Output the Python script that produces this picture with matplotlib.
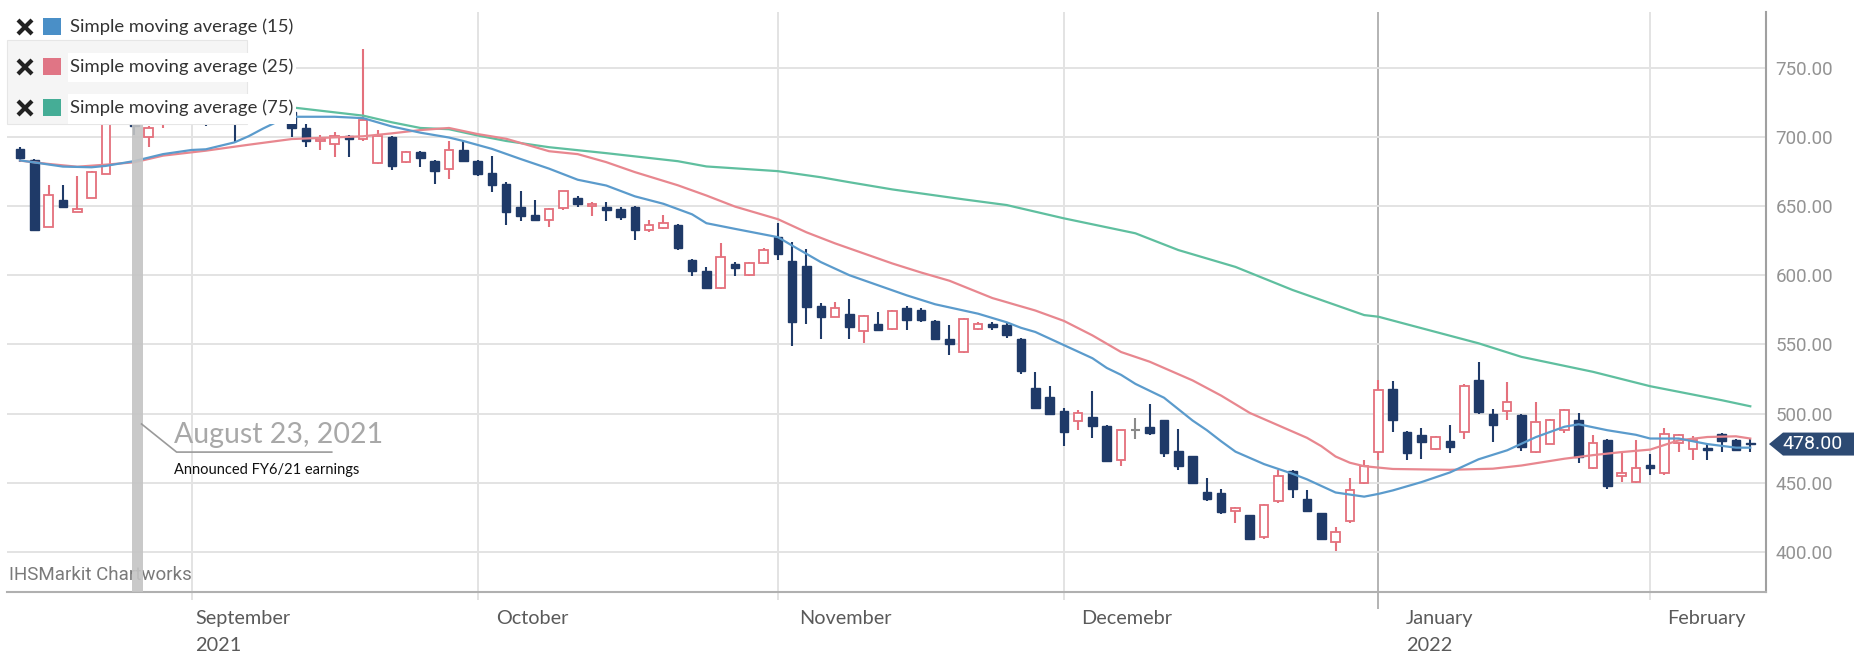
import matplotlib
matplotlib.use('Agg')
import matplotlib.pyplot as plt
from matplotlib.patches import Rectangle, Polygon
from matplotlib.lines import Line2D
import matplotlib.transforms as mtransforms

plt.rcParams['font.family'] = ['Roboto', 'DejaVu Sans']

# daily sessions, index 0 = first session on the chart
opens = [691, 683, 635, 654.3, 646, 656, 673.5, 712, 716, 699.6,
         710, 714, 722, 718, 712, 720, 713, 718, 725, 718,
         706.4, 697, 694.8, 700.6, 698.4, 680.8, 699.6, 681.6, 689.3, 682.3,
         676.7, 690.6, 682.4, 674, 666, 649.6, 643.6, 640, 648.7, 655.7,
         650.3, 649.6, 648, 649.6, 633, 634.2, 636.6, 611.3, 602.9, 590.8,
         608.2, 600.5, 608.7, 627.5, 610.1, 607, 578.1, 570.1, 572, 560,
         564.8, 561.2, 576.5, 575.1, 566.9, 554.1, 544.5, 561.3, 564.9, 563.7,
         554.1, 518.7, 511.9, 501.6, 494.6, 497.5, 491, 466.6, 487.8, 490.2,
         495.1, 472.9, 469.3, 443.7, 442.5, 429.5, 426.4, 411.2, 436.7, 458.4,
         438.4, 428.1, 407.1, 422.6, 449.6, 472.5, 517.6, 486.7, 484.3, 474.6,
         480.2, 486.7, 524.2, 500, 501.9, 498.8, 472.2, 478.3, 487.9, 495.2,
         460.9, 481.2, 454.6, 450.5, 462.6, 457, 478.7, 474.6, 475.5, 485,
         481.2, 478.8]
highs = [692.5, 684, 665, 665.4, 672, 675, 714, 720, 719, 708,
         719, 725, 726, 720, 722, 722, 724, 727, 728, 724,
         709.3, 701, 703.2, 701, 763.5, 705, 700.5, 689.5, 690, 683,
         697.2, 697.3, 683, 686.5, 667.7, 661.2, 654, 648.5, 661, 657.6,
         652.8, 652.8, 649.6, 650, 640, 643.8, 637, 612, 605.8, 623.1,
         609.4, 609.4, 619.7, 637.6, 623.8, 619, 579.7, 581, 582.9, 571,
         573.2, 575, 577.5, 576, 567.5, 563.7, 569, 566.1, 566.1, 566,
         554.5, 530, 519.6, 504.2, 502.3, 516.7, 491.5, 488.5, 497, 507.1,
         495.5, 489, 469.5, 453.6, 445.6, 432.4, 427, 435, 458.9, 459,
         444.9, 428.5, 418, 453.2, 466.5, 524.3, 523.8, 487.5, 489.9, 484,
         491.5, 521.7, 537.4, 503.6, 522.9, 499.5, 508.5, 496.4, 503.6, 500.5,
         484.8, 482, 472.2, 480.7, 471, 489.9, 485.5, 483.6, 477.8, 486,
         482, 481.9]
lows = [681.5, 632, 634.5, 649, 645.5, 655.5, 673, 710, 701, 693,
        706.5, 712, 713, 708, 711, 695.3, 712, 710, 716, 699.6,
        692.4, 690.5, 685.2, 685.6, 697, 680.3, 676, 681, 678.4, 665.9,
        669.5, 681.5, 672, 660, 636.6, 639, 639.5, 634.7, 647.2, 649.6,
        643.1, 639.5, 640.2, 625.5, 631, 633.5, 618.3, 599.7, 590, 590,
        599.7, 599.7, 608.2, 611, 549.1, 564.8, 553.9, 569.6, 553.9, 550.8,
        560, 560.5, 560.1, 566.1, 553.4, 542, 544, 560.6, 560.6, 554.8,
        528.8, 503.5, 498.7, 476.3, 488.3, 482.5, 465, 462.5, 481.8, 484.2,
        469, 458.9, 449.3, 436.7, 427.6, 420.8, 409, 409.5, 435.3, 439.1,
        428.8, 409, 401, 420.7, 449, 466.5, 486.9, 466.2, 467.4, 474,
        471.5, 481.9, 500, 479.5, 495.2, 473, 471.5, 477.8, 486, 464.3,
        460, 445.7, 450.5, 449.8, 455.3, 456, 472.2, 466.2, 466.2, 472.2,
        473, 472.2]
closes = [685, 633, 658, 649.5, 647.5, 674.5, 712, 718, 707.5, 706.4,
          716, 722, 716, 712, 719, 713, 720, 724, 719, 706.5,
          697.2, 698.5, 700.4, 698.7, 712.2, 700.8, 679.1, 688.8, 684.7, 675.5,
          690.5, 682.2, 672.8, 665.5, 646, 643.1, 640, 648, 660.5, 651.6,
          651.3, 647.2, 642, 633, 636.4, 637.6, 619.7, 602.9, 590.8, 613.5,
          605.3, 608.7, 618.5, 615.4, 566.5, 576.9, 569.6, 576.4, 562.9, 570.3,
          560.5, 574.4, 567.4, 567.4, 554.1, 550.5, 568.6, 564.9, 562.5, 556.5,
          530.7, 504.2, 499.4, 486.6, 500.4, 491.4, 465.4, 487.8, 487.8, 485.9,
          471.4, 462, 450, 438.4, 428.8, 431.9, 409.5, 434.3, 454.6, 445.6,
          429.5, 409.5, 414.3, 444.8, 462.1, 517, 495.4, 471.5, 479.5, 483.1,
          475.9, 519.8, 501.2, 491.5, 508.5, 475.9, 494, 495.2, 502.4, 468.6,
          478.7, 447.4, 457, 460.9, 460.9, 485, 484.3, 480.7, 474, 480.2,
          473.9, 478]

# moving averages (session index, value)
sma15_x = [0, 2, 3, 5, 6, 8, 10, 12, 13, 15, 16, 17, 18, 19, 22, 24, 26, 28, 30, 31,
           33, 35, 37, 39, 41, 43, 45, 47, 48, 50, 53, 54, 56, 58, 62, 64, 67, 69, 70, 71,
           73, 75, 76, 77, 78, 80, 82, 83, 84, 85, 87, 89, 90, 92, 94, 95, 96, 98, 100, 102,
           104, 106, 108, 109, 111, 113, 114, 116, 118, 120, 121]
sma15_y = [683, 680, 678.5, 678, 679, 682.5, 687.5, 690.5, 691, 696, 700.5, 706, 711, 714.5, 714.5, 713.5, 707.5, 703, 699.5, 697,
           691.3, 684, 677, 669, 664.8, 657, 651.6, 644, 637.6, 633.5, 627.5, 621.4, 609.5, 600, 585.5, 579, 572.2, 566, 562, 559,
           549.5, 540, 533, 528, 521.5, 511.5, 495, 488, 480, 472.5, 463.5, 456.5, 452.5, 443, 440, 442, 444.5, 450.5, 457.5, 467,
           473.5, 483, 490.5, 492.3, 488, 484.7, 482, 482, 478, 475.4, 475.4]

sma25_x = [0, 2, 4, 6, 8, 10, 13, 16, 19, 22, 24, 26, 28, 30, 32, 34, 37, 39, 41, 43,
           46, 48, 50, 53, 55, 57, 61, 63, 65, 68, 71, 73, 75, 77, 79, 82, 84, 86, 88, 90,
           91, 92, 93, 94, 96, 100, 103, 105, 108, 110, 112, 114, 116, 118, 120, 121]
sma25_y = [682.8, 680.4, 678.4, 679.9, 681.6, 686.4, 690, 694.3, 698.4, 699.6, 700.4, 702.5, 704.9, 706.4, 702, 698.6, 689.6, 687.5, 681.7, 674.5,
           665, 657.6, 649.6, 640.5, 631, 623, 608.5, 602, 596, 583.5, 574.5, 567, 556.5, 544.5, 537.5, 524, 513, 500.5, 491.5, 482.5,
           476.5, 469, 464.5, 462, 460, 459.4, 460.2, 462.5, 467.4, 470, 472.2, 474, 480.7, 483.1, 483.6, 482]

sma75_x = [0, 10, 19, 22, 24, 26, 28, 30, 32, 34, 37, 41, 46, 48, 53, 56, 58, 61, 66, 69,
           73, 78, 81, 85, 89, 94, 95, 97, 102, 105, 110, 114, 119, 121]
sma75_y = [723, 723, 721.3, 717.7, 715.3, 710.5, 706.4, 705.5, 701, 697, 692.5, 688.2, 682.4, 678.6, 675.2, 670.8, 667.2, 662, 654.8, 650.7,
           641.1, 630.3, 618.2, 606, 589.3, 571.2, 570, 564.5, 550.8, 541, 530.2, 519.8, 509.7, 505.3]

# first session of each month
month_starts = [12, 32, 53, 73, 95, 114]
month_names = ['September', 'October', 'November', 'Decemebr', 'January', 'February']
year_names = ['2021', '', '', '', '2022', '']
label_shift = [0.25, 1.3, 1.5, 1.2, 1.9, 1.2]

event_pos = 8.2
event_date = 'August 23, 2021'
event_note = 'Announced FY6/21 earnings'

DOWN = '#1f3a68'
UP = '#e4707c'
C15, C25, C75 = '#5b9bcc', '#e8878f', '#5fbf9f'

W, H = 1856, 652
fig = plt.figure(figsize=(W / 100, H / 100), dpi=100)
ax = fig.add_axes([7 / W, 60 / H, (1766 - 7) / W, 580 / H])
ax.set_xlim(-0.91, 122.1)
ax.set_ylim(371.1, 790.2)

# grid
ax.set_yticks(range(400, 751, 50))
ax.set_yticklabels([f'{v:.2f}' for v in range(400, 751, 50)])
ax.yaxis.tick_right()
ax.tick_params(axis='y', length=0, pad=7, labelsize=13.5, labelcolor='#939393')
ax.grid(axis='y', color='#e3e3e3', lw=1.4, zorder=0)
ax.set_xticks([])
xt = ax.get_xaxis_transform()
for m in month_starts:
    jan = m == 95
    ax.vlines(m, -0.03 if jan else -0.014, 1, transform=xt, clip_on=False,
              colors='#b3b3b3' if jan else '#e3e3e3', lw=1.4, zorder=0)
for m, name, yr, sh in zip(month_starts, month_names, year_names, label_shift):
    ax.text(m + sh, -0.046, name, transform=xt, ha='left', va='center',
            fontsize=14.3, family='Lato', color='#5a5a5a')
    if yr:
        ax.text(m + sh, -0.093, yr, transform=xt, ha='left', va='center',
                fontsize=14.3, family='Lato', color='#5a5a5a')

for side in ['left', 'top']:
    ax.spines[side].set_visible(False)
ax.spines['bottom'].set_color('#b0b0b0')
ax.spines['bottom'].set_linewidth(1.5)
ax.spines['right'].set_color('#a0a0a0')
ax.spines['right'].set_linewidth(1.5)

# candles
for i, (o, h, l, c) in enumerate(zip(opens, highs, lows, closes)):
    if c == o:
        col = '#8a8a8a'
    elif c < o:
        col = DOWN
    else:
        col = UP
    ax.vlines(i, l, h, colors=col, lw=1.5, zorder=2)
    if c == o:
        ax.hlines(o, i - 0.3, i + 0.3, colors=col, lw=1.5, zorder=3)
    elif c < o:
        ax.add_patch(Rectangle((i - 0.3, c), 0.6, o - c, facecolor=DOWN,
                               edgecolor=DOWN, lw=1, zorder=3))
    else:
        ax.add_patch(Rectangle((i - 0.3, o), 0.6, c - o, facecolor='white',
                               edgecolor=UP, lw=1.3, zorder=3))

ax.plot(sma75_x, sma75_y, color=C75, lw=1.6, zorder=4)
ax.plot(sma25_x, sma25_y, color=C25, lw=1.6, zorder=4)
ax.plot(sma15_x, sma15_y, color=C15, lw=1.6, zorder=4)

# earnings marker
ax.axvspan(event_pos - 0.4, event_pos + 0.4, color='#c4c4c4', alpha=0.9, lw=0, zorder=5)
ax.plot([event_pos + 0.3, event_pos + 2.75, event_pos + 13.6], [492.5, 472.2, 472.2],
        color='#9a9a9a', lw=1.2, zorder=5)
ax.text(event_pos + 2.6, 475, event_date, ha='left', va='bottom', fontsize=20.5,
        family='Lato', color='#a8a8a8', zorder=6)
ax.text(event_pos + 2.6, 459.2, event_note, ha='left', va='center', fontsize=10.5,
        family='Lato', color='#111111', zorder=6)

ax.text(0.001, 0.014, 'IHSMarkit Chartworks', transform=ax.transAxes, ha='left',
        va='bottom', fontsize=13.5, color='#7a7a7a', zorder=4)

# last price tag
last = closes[-1]
per_px = (790.2 - 371.1) / 580
hh = 11.5 * per_px
tag_tr = mtransforms.blended_transform_factory(fig.transFigure, ax.transData)
tag = Polygon([(1769 / W, last), (1783 / W, last + hh), (1854 / W, last + hh),
               (1854 / W, last - hh), (1783 / W, last - hh)], closed=True,
              transform=tag_tr, facecolor='#2d4a73', edgecolor='none', clip_on=False)
fig.add_artist(tag)
fig.text(1813 / W, last, f'{last:.2f}', transform=tag_tr, ha='center', va='center',
         fontsize=14, color='white')


# legend panel
def fig_box(x0, y0, x1, y1, **kw):
    return Rectangle((x0 / W, 1 - y1 / H), (x1 - x0) / W, (y1 - y0) / H,
                     transform=fig.transFigure, **kw)


fig.add_artist(fig_box(7, 12, 296, 124, facecolor='white', edgecolor='none', zorder=10))
fig.add_artist(fig_box(7, 40, 247, 124, facecolor='#f5f5f5', edgecolor='#e6e6e6', lw=0.8, zorder=11))
fig.add_artist(fig_box(68, 53, 289, 82, facecolor='white', edgecolor='none', zorder=12))
fig.add_artist(fig_box(68, 94, 296, 124, facecolor='white', edgecolor='none', zorder=12))

legend_rows = [('Simple moving average (15)', '#4a8fc7', 27),
               ('Simple moving average (25)', '#e07585', 67),
               ('Simple moving average (75)', '#45ad96', 108)]
for label, sq, yc in legend_rows:
    for dx0, dx1 in [(-7, 7), (7, -7)]:
        fig.add_artist(Line2D([(25 + dx0) / W, (25 + dx1) / W],
                              [1 - (yc - 7) / H, 1 - (yc + 7) / H],
                              transform=fig.transFigure, color='#222222', lw=3,
                              solid_capstyle='butt', zorder=13))
    fig.add_artist(fig_box(43, yc - 9, 61, yc + 8, facecolor=sq, edgecolor='none', zorder=13))
    fig.text(70 / W, 1 - yc / H, label, ha='left', va='center', fontsize=13.3,
             family='Lato', color='#333333', zorder=13)

fig.savefig('out.png', dpi=100, facecolor='white')
